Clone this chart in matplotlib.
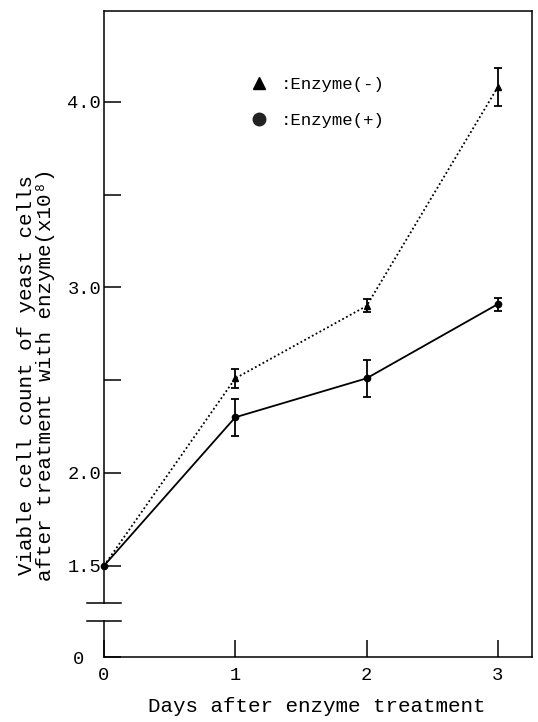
import numpy as np
import matplotlib
matplotlib.use('Agg')
import matplotlib.pyplot as plt
import matplotlib.transforms as mtransforms
from matplotlib.lines import Line2D

plt.rcParams['font.family'] = ['Liberation Mono', 'DejaVu Sans Mono']

# 数据
days = [0, 1, 2, 3]
minus_mean = [1.5, 2.51, 2.90, 4.08]   # Enzyme(-)
minus_err = [0, 0.05, 0.035, 0.10]
plus_mean = [1.5, 2.30, 2.51, 2.91]    # Enzyme(+)
plus_err = [0, 0.10, 0.10, 0.035]

ytick_vals = [0, 1.5, 2.0, 2.5, 3.0, 3.5, 4.0]
ytick_labels = ['0', '1.5', '2.0', '', '3.0', '', '4.0']
xtick_vals = [0, 1, 2, 3]

# 纵轴断开: 1.3 以下压缩
brk_hi = 1.30
z0 = 1.008


def fwd(v):
    v = np.asarray(v, dtype=float)
    return np.where(v >= brk_hi, v, z0 + v * (brk_hi - z0) / brk_hi)


def inv(z):
    z = np.asarray(z, dtype=float)
    return np.where(z >= brk_hi, z, (z - z0) * brk_hi / (brk_hi - z0))


brk_lo = float(inv(1.202))

fig = plt.figure(figsize=(5.38, 7.22), dpi=100)
ax = fig.add_axes([0.1933, 0.0900, 0.7955, 0.8948])
ax.set_yscale('function', functions=(fwd, inv))
ax.set_xlim(0, 3.26)
ax.set_ylim(0, 4.49)

# 折线
ax.plot(days, minus_mean, color='black', lw=1.3, ls=(0, (1, 1.4)), zorder=2)
ax.plot(days, plus_mean, color='black', lw=1.3, ls='-', zorder=2)

# 误差线和点
ax.errorbar(days[1:], minus_mean[1:], yerr=minus_err[1:], fmt='^', color='black',
            ms=5, elinewidth=1.3, capsize=3, capthick=1.3, zorder=3)
ax.errorbar(days[1:], plus_mean[1:], yerr=plus_err[1:], fmt='o', color='black',
            ms=4.5, elinewidth=1.3, capsize=3, capthick=1.3, zorder=3)
ax.plot(days[:1], plus_mean[:1], 'o', color='black', ms=4.5, clip_on=False, zorder=4)

# 坐标轴
ax.set_xticks(xtick_vals)
ax.set_yticks(ytick_vals)
ax.set_yticklabels(ytick_labels)
ax.yaxis.set_minor_locator(plt.NullLocator())
ax.tick_params(axis='both', direction='in', length=12, width=1.1, labelsize=13.5)
ax.tick_params(axis='y', pad=2)
ax.tick_params(axis='x', pad=7)
for s in ['top', 'right', 'bottom']:
    ax.spines[s].set_linewidth(1.1)
ax.spines['left'].set_visible(False)

# y 轴 "0" 标签往左移一点
lab0 = ax.get_yticklabels()[0]
lab0.set_transform(lab0.get_transform() +
                   mtransforms.ScaledTranslation(-12 / 72, 0, fig.dpi_scale_trans))

# 左轴断开标记
ax.plot([0, 0], [0, brk_lo], color='black', lw=1.1, clip_on=False)
ax.plot([0, 0], [brk_hi, 4.49], color='black', lw=1.1, clip_on=False)
for yb in [brk_lo, brk_hi]:
    ax.plot([-0.13, 0.13], [yb, yb], color='black', lw=1.1, clip_on=False)

# 图例
handles = [Line2D([], [], marker='^', ls='none', color='black', ms=9),
           Line2D([], [], marker='o', ls='none', color='#222222', ms=9)]
ax.legend(handles, [':Enzyme(-)', ':Enzyme(+)'], loc='upper left',
          bbox_to_anchor=(0.341, 0.898), frameon=False, fontsize=12.5,
          handlelength=1, handletextpad=0.75, labelspacing=1.2, borderpad=0,
          borderaxespad=0)

fig.text(36 / 538, 1 - 375 / 722,
         'Viable cell count of yeast cells\nafter treatment with enzyme(x10⁸)',
         rotation=90, ha='center', va='center', fontsize=15, linespacing=1.05)
fig.text(317 / 538, 1 - 707 / 722, 'Days after enzyme treatment',
         ha='center', va='center', fontsize=15)

fig.savefig('out.png', dpi=100)
